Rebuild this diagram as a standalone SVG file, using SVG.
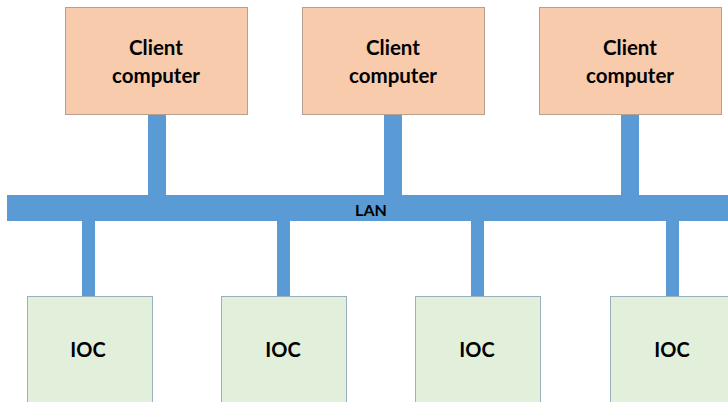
<svg xmlns="http://www.w3.org/2000/svg" width="728" height="402" viewBox="0 0 728 402">
<style>
.client{fill:#F8CBAD;stroke:#B8A090;stroke-width:1}
.ioc{fill:#E2EFDA;stroke:#9AAFC0;stroke-width:1}
.bus{fill:#5B9BD5}
.lbl{font-family:Lato,"Open Sans","Liberation Sans",sans-serif;font-weight:bold;fill:#000;text-anchor:middle}
.big{font-size:20.5px}
.ioct{font-size:20px}
.small{font-size:16px}
</style>
<rect width="728" height="402" fill="#fff"/>
<g id="connectors">
<rect class="bus" x="148" y="114" width="18" height="82"/>
<rect class="bus" x="384" y="114" width="18" height="82"/>
<rect class="bus" x="621" y="114" width="18" height="82"/>
<rect class="bus" x="82" y="220" width="13" height="76"/>
<rect class="bus" x="277" y="220" width="13" height="76"/>
<rect class="bus" x="471" y="220" width="13" height="76"/>
<rect class="bus" x="666" y="220" width="13" height="76"/>
</g>
<g id="lan">
<rect class="bus" x="7" y="195" width="730" height="26"/>
<text class="lbl small" x="371" y="215.5">LAN</text>
</g>
<g id="client1">
<rect class="client" x="65.5" y="7.5" width="182" height="107"/>
<text class="lbl big" x="156" y="55">Client</text>
<text class="lbl big" x="156" y="83">computer</text>
</g>
<g id="client2">
<rect class="client" x="302.5" y="7.5" width="182" height="107"/>
<text class="lbl big" x="393" y="55">Client</text>
<text class="lbl big" x="393" y="83">computer</text>
</g>
<g id="client3">
<rect class="client" x="539.5" y="7.5" width="182" height="107"/>
<text class="lbl big" x="630" y="55">Client</text>
<text class="lbl big" x="630" y="83">computer</text>
</g>
<g id="ioc1">
<rect class="ioc" x="27.5" y="296.5" width="125" height="120"/>
<text class="lbl ioct" x="88" y="357">IOC</text>
</g>
<g id="ioc2">
<rect class="ioc" x="221.5" y="296.5" width="125" height="120"/>
<text class="lbl ioct" x="283" y="357">IOC</text>
</g>
<g id="ioc3">
<rect class="ioc" x="415.5" y="296.5" width="125" height="120"/>
<text class="lbl ioct" x="477" y="357">IOC</text>
</g>
<g id="ioc4">
<rect class="ioc" x="610.5" y="296.5" width="125" height="120"/>
<text class="lbl ioct" x="672" y="357">IOC</text>
</g>
</svg>
